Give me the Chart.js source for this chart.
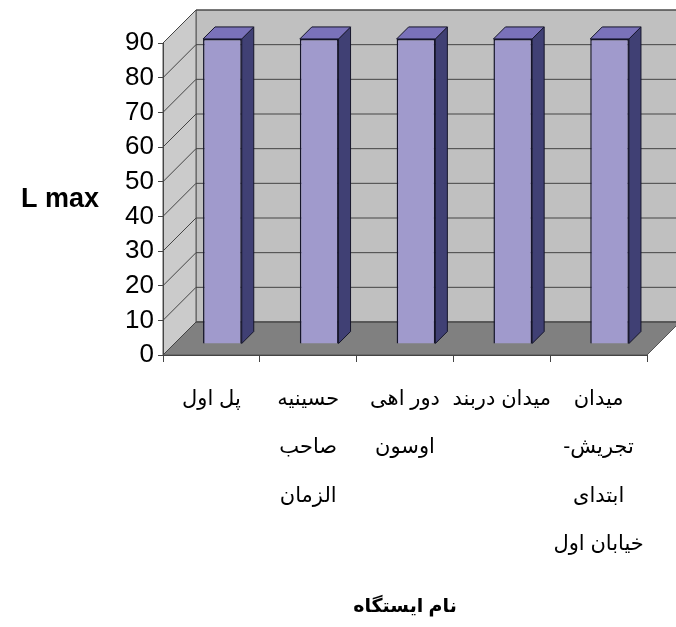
<!DOCTYPE html>
<html>
<head>
<meta charset="utf-8">
<script src="https://cdn.jsdelivr.net/npm/chart.js@4.4.1/dist/chart.umd.min.js"></script>
<style>
    html, body { margin: 0; padding: 0; background: #fff; }
    #wrap { width: 676px; height: 627px; }
</style>
</head>
<body>
<div id="wrap"><canvas id="lmaxChart" width="676" height="627"></canvas></div>
<script>
// Station names, split into lines as in the original chart
const stations = [
    ['پل اول'],
    ['حسینیه', 'صاحب', 'الزمان'],
    ['دور اهی', 'اوسون'],
    ['میدان دربند'],
    ['میدان', 'تجریش-', 'ابتدای', 'خیابان اول']
];
const lmaxValues = [88, 88, 88, 88, 88];
const yMin = 0;
const yMax = 90;
const yStep = 10;
const yTitle = 'L max';
const xTitle = 'نام ایستگاه';

// 3D look
const WALL_DEPTH = 33;   // depth of the floor / side wall
const BAR_FRONT = 11;    // gap from the front edge to the bar face
const BAR_DEPTH = 12;    // depth of each bar

const persianFont = 'Liberation Sans, DejaVu Sans, sans-serif';
const RLM = '\u200F';

function poly(ctx, pts, fill, stroke) {
    ctx.beginPath();
    ctx.moveTo(pts[0][0], pts[0][1]);
    for (let i = 1; i < pts.length; i++) ctx.lineTo(pts[i][0], pts[i][1]);
    ctx.closePath();
    if (fill) { ctx.fillStyle = fill; ctx.fill(); }
    if (stroke) { ctx.strokeStyle = stroke; ctx.lineWidth = 1; ctx.stroke(); }
}

const threeD = {
    id: 'threeD',
    beforeDraw(chart) {
        const ctx = chart.ctx;
        const { left, right, top, bottom } = chart.chartArea;
        const D = WALL_DEPTH;
        const yScale = chart.scales.y;
        ctx.save();
        // back wall
        poly(ctx, [[left + D, top - D], [right + D, top - D], [right + D, bottom - D], [left + D, bottom - D]], '#c0c0c0', '#555');
        // side wall
        poly(ctx, [[left, top], [left + D, top - D], [left + D, bottom - D], [left, bottom]], '#cbcbcb', '#555');
        // floor
        poly(ctx, [[left, bottom], [left + D, bottom - D], [right + D, bottom - D], [right, bottom]], '#808080', '#555');
        // grid lines running across the side and back walls
        ctx.strokeStyle = '#444';
        ctx.lineWidth = 1;
        yScale.ticks.forEach(t => {
            const yy = yScale.getPixelForValue(t.value);
            ctx.beginPath();
            ctx.moveTo(left, yy);
            ctx.lineTo(left + D, yy - D);
            ctx.lineTo(right + D, yy - D);
            ctx.stroke();
        });
        ctx.restore();
    },
    beforeDatasetsDraw(chart) {
        chart.ctx.save();
        chart.ctx.translate(BAR_FRONT, -BAR_FRONT);
    },
    afterDatasetsDraw(chart) {
        const ctx = chart.ctx;
        ctx.restore();
        const f = BAR_FRONT, d = BAR_DEPTH;
        chart.getDatasetMeta(0).data.forEach(bar => {
            const { x, y, base, width } = bar.getProps(['x', 'y', 'base', 'width'], true);
            const l = x - width / 2 + f, r = x + width / 2 + f;
            const t = y - f, b = base - f;
            ctx.save();
            ctx.lineJoin = 'round';
            // right side
            poly(ctx, [[r, t], [r + d, t - d], [r + d, b - d], [r, b]], '#404074', '#15152a');
            // top
            poly(ctx, [[l, t], [l + d, t - d], [r + d, t - d], [r, t]], '#7a72ba', '#15152a');
            ctx.restore();
        });
    },
    afterDraw(chart) {
        const ctx = chart.ctx;
        ctx.save();
        ctx.font = 'bold 27px Liberation Sans, Arial, sans-serif';
        ctx.fillStyle = '#000';
        ctx.textAlign = 'center';
        ctx.textBaseline = 'middle';
        ctx.fillText(yTitle, 60, 200);
        ctx.restore();
    }
};

const ctx = document.getElementById('lmaxChart').getContext('2d');
new Chart(ctx, {
    type: 'bar',
    data: {
        labels: stations,
        datasets: [{
            data: lmaxValues,
            backgroundColor: '#a09acc',
            borderColor: '#15152a',
            borderWidth: 1.5,
            barPercentage: 0.4,
            categoryPercentage: 1,
            clip: false
        }]
    },
    options: {
        responsive: false,
        animation: false,
        layout: { padding: { top: 43, right: 29, left: 0, bottom: 0 } },
        plugins: {
            legend: { display: false },
            tooltip: { enabled: false }
        },
        scales: {
            x: {
                grid: { drawOnChartArea: false, tickLength: 7, color: '#444', offset: true },
                border: { color: '#444', width: 1 },
                ticks: {
                    color: '#000',
                    padding: 13,
                    maxRotation: 0,
                    autoSkip: false,
                    font: { family: persianFont, size: 21, lineHeight: 2.3 },
                    // keep each line right-to-left (hyphen after تجریش on the left)
                    callback: function(value, index) {
                        return stations[index].map(s => RLM + s + RLM);
                    }
                },
                title: {
                    display: true,
                    text: xTitle,
                    color: '#000',
                    font: { family: persianFont, size: 19, weight: 'bold' },
                    padding: { top: 0, bottom: 9 }
                },
                afterFit: s => { s.height = 272; }
            },
            y: {
                min: yMin,
                max: yMax,
                grid: { drawOnChartArea: false, tickLength: 5, color: '#444' },
                border: { color: '#444', width: 1 },
                ticks: {
                    stepSize: yStep,
                    autoSkip: false,
                    color: '#000',
                    padding: 4,
                    font: { family: 'Liberation Sans, Arial, sans-serif', size: 26 }
                },
                afterFit: s => { s.width = 163; }
            }
        }
    },
    plugins: [threeD]
});
</script>
</body>
</html>
